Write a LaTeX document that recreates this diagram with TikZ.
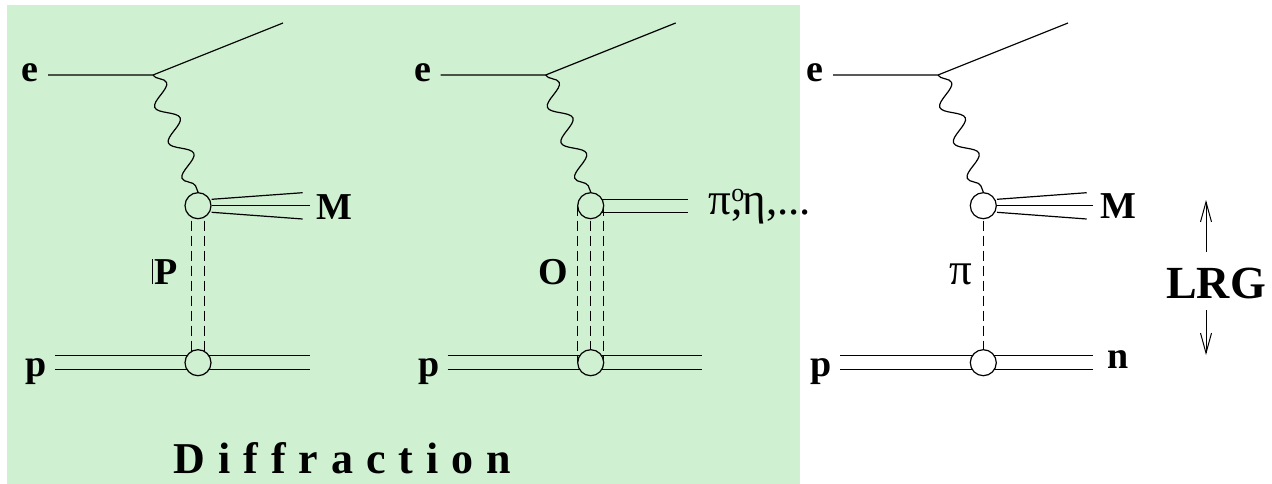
\documentclass[tikz,border=0pt]{standalone}
\usepackage{fontspec}
\setmainfont{Liberation Serif}
\usetikzlibrary{decorations.pathmorphing,arrows.meta}
\definecolor{diffgreen}{RGB}{207,240,209}
\newcommand\mykern{\kern13pt}
\begin{document}
\begin{tikzpicture}[x=1pt,y=-1pt,line width=1.2pt,
  lab/.style={font=\fontsize{38}{38}\selectfont\bfseries,anchor=base,inner sep=0pt},
  rlab/.style={font=\fontsize{45}{45}\selectfont,inner sep=0pt},
  vtx/.style={circle,draw,minimum size=26pt,inner sep=0pt,fill=#1},
  photon/.style={decorate,decoration={snake,segment length=38pt,amplitude=10pt}},
  exch/.style={dash pattern=on 10pt off 5pt,line width=1.1pt},
  gaparrow/.style={-{Straight Barb[length=20pt,width=11pt]},line width=1pt}]
\useasboundingbox (0,0) rectangle (1272,484);
\fill[diffgreen] (7,5) rectangle (800,484);

% ---------------- Diagram 1: Pomeron ----------------
\coordinate (in1) at (48,75);
\coordinate (v1) at (153,75);
\coordinate (out1) at (283,23);
\draw (in1) -- (v1) -- (out1);
\draw (211.7,199.3) -- (302.7,192.7);
\draw (211.7,205.7) -- (310,205.7);
\draw (211.7,212.3) -- (302.7,219);
\draw (55,355.7) -- (310,355.7);
\draw (55,369.3) -- (310,369.3);
\draw[exch] (191.5,205.7) -- (191.5,362.7);
\draw[exch] (204.5,205.7) -- (204.5,362.7);
\node[vtx=diffgreen] (t1) at (198,205.7) {};
\node[vtx=diffgreen] (b1) at (198,362.7) {};
\draw[photon] (v1) -- (t1.north);
\node[lab] (e1) at (30,82) {e};
\node[lab] (M1) at (334,219) {M};
\node[lab] (P1) at (166,284) {P};
\draw[line width=0.8pt] ([xshift=-1.5pt]P1.base west) -- ([xshift=-1.5pt,yshift=25pt]P1.base west);
\node[lab] (p1) at (36,376) {p};

% ---------------- Diagram 2: Odderon ----------------
\coordinate (in2) at (440.7,75);
\coordinate (v2) at (545.7,75);
\coordinate (out2) at (675.7,23);
\draw (in2) -- (v2) -- (out2);
\draw (602,199.3) -- (688,199.3);
\draw (602,212.3) -- (688,212.3);
\draw (447.7,355.7) -- (702,355.7);
\draw (447.7,369.3) -- (702,369.3);
\draw[exch] (577.7,205.7) -- (577.7,362.7);
\draw[exch] (590.7,205.7) -- (590.7,362.7);
\draw[exch] (603.7,205.7) -- (603.7,362.7);
\node[vtx=diffgreen] (t2) at (590.7,205.7) {};
\node[vtx=diffgreen] (b2) at (590.7,362.7) {};
\draw[photon] (v2) -- (t2.north);
\node[lab] (e2) at (422.7,82) {e};
\node[rlab,anchor=base west] (pi0) at (708,214) {π\rlap{\raisebox{13pt}{\fontsize{26}{26}\selectfont o}},η,...};
\node[lab] (O2) at (553,284) {O};
\node[lab] (p2) at (428.7,376) {p};

% ---------------- Diagram 3: pion exchange ----------------
\coordinate (in3) at (833,75);
\coordinate (v3) at (938,75);
\coordinate (out3) at (1068,23);
\draw (in3) -- (v3) -- (out3);
\draw (997,199.3) -- (1086.7,192.7);
\draw (997,205.7) -- (1093,205.7);
\draw (997,212.3) -- (1086.7,219);
\draw (840,355.7) -- (1093,355.7);
\draw (840,369.3) -- (1093,369.3);
\draw[exch] (983.3,205.7) -- (983.3,362.7);
\node[vtx=white] (t3) at (983.3,205.7) {};
\node[vtx=white] (b3) at (983.3,362.7) {};
\draw[photon] (v3) -- (t3.north);
\node[lab] (e3) at (815,82) {e};
\node[lab] (M3) at (1118.5,218) {M};
\node[rlab,anchor=base] (pi3) at (961,284) {π};
\node[lab] (p3) at (821,376) {p};
\node[lab] (n3) at (1118,368) {n};

% ---------------- LRG ----------------
\node[font=\fontsize{46}{46}\selectfont\bfseries,anchor=base,inner sep=0pt] (lrg) at (1216,298) {LRG};
\coordinate (ua) at (1206,251.7);
\coordinate (ub) at (1206,200);
\coordinate (da) at (1206,310);
\coordinate (db) at (1206,355);
\draw[gaparrow] (ua) -- (ub);
\draw[gaparrow] (da) -- (db);

% ---------------- Diffraction ----------------
\node[font=\fontsize{44}{44}\selectfont\bfseries,anchor=base west,inner sep=0pt] (diff) at (173,473)
  {D\mykern i\mykern f\mykern f\mykern r\mykern a\mykern c\mykern t\mykern i\mykern o\mykern n};
\end{tikzpicture}
\end{document}
